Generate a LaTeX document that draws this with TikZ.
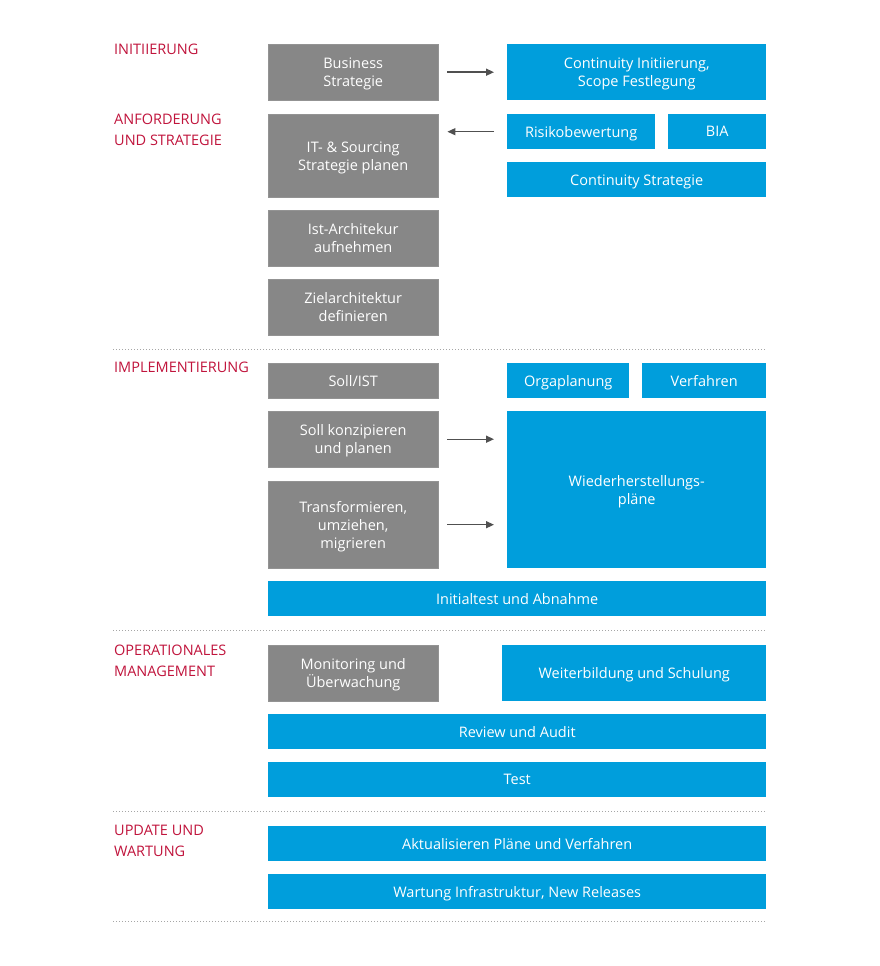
\documentclass[tikz,border=0pt]{standalone}
\usepackage{fontspec}
\setmainfont{Open Sans}
\usetikzlibrary{arrows.meta, positioning}

\definecolor{boxgray}{HTML}{878787}
\definecolor{boxblue}{HTML}{009EDC}
\definecolor{phasered}{HTML}{C0143C}
\definecolor{arrowgray}{HTML}{505050}

\tikzset{
  box/.style={anchor=north west, inner sep=0pt, align=center, text=white,
    text depth=0pt, font=\fontsize{14.5}{18}\selectfont},
  graybox/.style={box, fill=boxgray, draw=boxgray!90!white},
  bluebox/.style={box, fill=boxblue},
  phase/.style={anchor=north west, inner sep=0pt, align=left, text=phasered,
    font=\fontsize{14.5}{21}\selectfont},
  sep/.style={draw=gray!70, dotted, line width=1pt},
  flow/.style={-{Triangle[length=8pt,width=7pt]}, draw=arrowgray, line width=1.4pt}
}

\begin{document}
\begin{tikzpicture}[x=1pt, y=-1pt]
    \useasboundingbox (0,0) rectangle (880,966);

    % phases
    \node[phase] (ini) at (114,44) {INITIIERUNG};
    \node[phase] (anf) at (114,114) {ANFORDERUNG\\UND STRATEGIE};
    \node[phase] (imp) at (114,362) {IMPLEMENTIERUNG};
    \node[phase] (ops) at (114,645) {OPERATIONALES\\MANAGEMENT};
    \node[phase] (upd) at (114,825) {UPDATE UND\\WARTUNG};

    % gray column
    \node[graybox, minimum width=170, minimum height=56] (bus) at (268,44) {Business\\Strategie};
    \node[graybox, minimum width=170, minimum height=83] (its) at (268,114) {IT- \& Sourcing\\Strategie planen};
    \node[graybox, minimum width=170, minimum height=56] (ist) at (268,210) {Ist-Architekur\\aufnehmen};
    \node[graybox, minimum width=170, minimum height=56] (ziel) at (268,279) {Zielarchitektur\\definieren};
    \node[graybox, minimum width=170, minimum height=35] (soll) at (268,363) {Soll/IST};
    \node[graybox, minimum width=170, minimum height=56] (sollk) at (268,411) {Soll konzipieren\\und planen};
    \node[graybox, minimum width=170, minimum height=87] (trans) at (268,481) {Transformieren,\\umziehen,\\migrieren};
    \node[graybox, minimum width=170, minimum height=56] (mon) at (268,645) {Monitoring und\\Überwachung};

    % blue column
    \node[bluebox, minimum width=259, minimum height=56] (cont) at (507,44) {Continuity Initiierung,\\Scope Festlegung};
    \node[bluebox, minimum width=148, minimum height=35] (risk) at (507,114) {Risikobewertung};
    \node[bluebox, minimum width=98, minimum height=35] (bia) at (668,114) {BIA};
    \node[bluebox, minimum width=259, minimum height=35] (cstr) at (507,162) {Continuity Strategie};
    \node[bluebox, minimum width=122, minimum height=35] (orga) at (507,363) {Orgaplanung};
    \node[bluebox, minimum width=124, minimum height=35] (verf) at (642,363) {Verfahren};
    \node[bluebox, minimum width=259, minimum height=157] (wied) at (507,411) {Wiederherstellungs-\\pläne};
    \node[bluebox, minimum width=498, minimum height=35] (init) at (268,581) {Initialtest und Abnahme};
    \node[bluebox, minimum width=264, minimum height=56] (weit) at (502,645) {Weiterbildung und Schulung};
    \node[bluebox, minimum width=498, minimum height=35] (rev) at (268,714) {Review und Audit};
    \node[bluebox, minimum width=498, minimum height=35] (test) at (268,762) {Test};
    \node[bluebox, minimum width=498, minimum height=35] (akt) at (268,826) {Aktualisieren Pläne und Verfahren};
    \node[bluebox, minimum width=498, minimum height=35] (wart) at (268,874) {Wartung Infrastruktur, New Releases};

    % separators
    \coordinate (l1) at (113,349);
    \coordinate (l2) at (113,630);
    \coordinate (l3) at (113,811);
    \coordinate (l4) at (113,921);
    \foreach \s in {l1,l2,l3,l4}
      \draw[sep] (\s) -- (\s -| wart.east);

    % arrows
    \draw[flow, shorten <=9pt, shorten >=13pt] (bus.east) -- (bus.east -| cont.west);
    \draw[flow, shorten <=13pt, shorten >=9pt] (risk.west) -- (risk.west -| its.east);
    \draw[flow, shorten <=9pt, shorten >=13pt] (sollk.east) -- (sollk.east -| wied.west);
    \draw[flow, shorten <=9pt, shorten >=13pt] (trans.east) -- (trans.east -| wied.west);
  \end{tikzpicture}
\end{document}
